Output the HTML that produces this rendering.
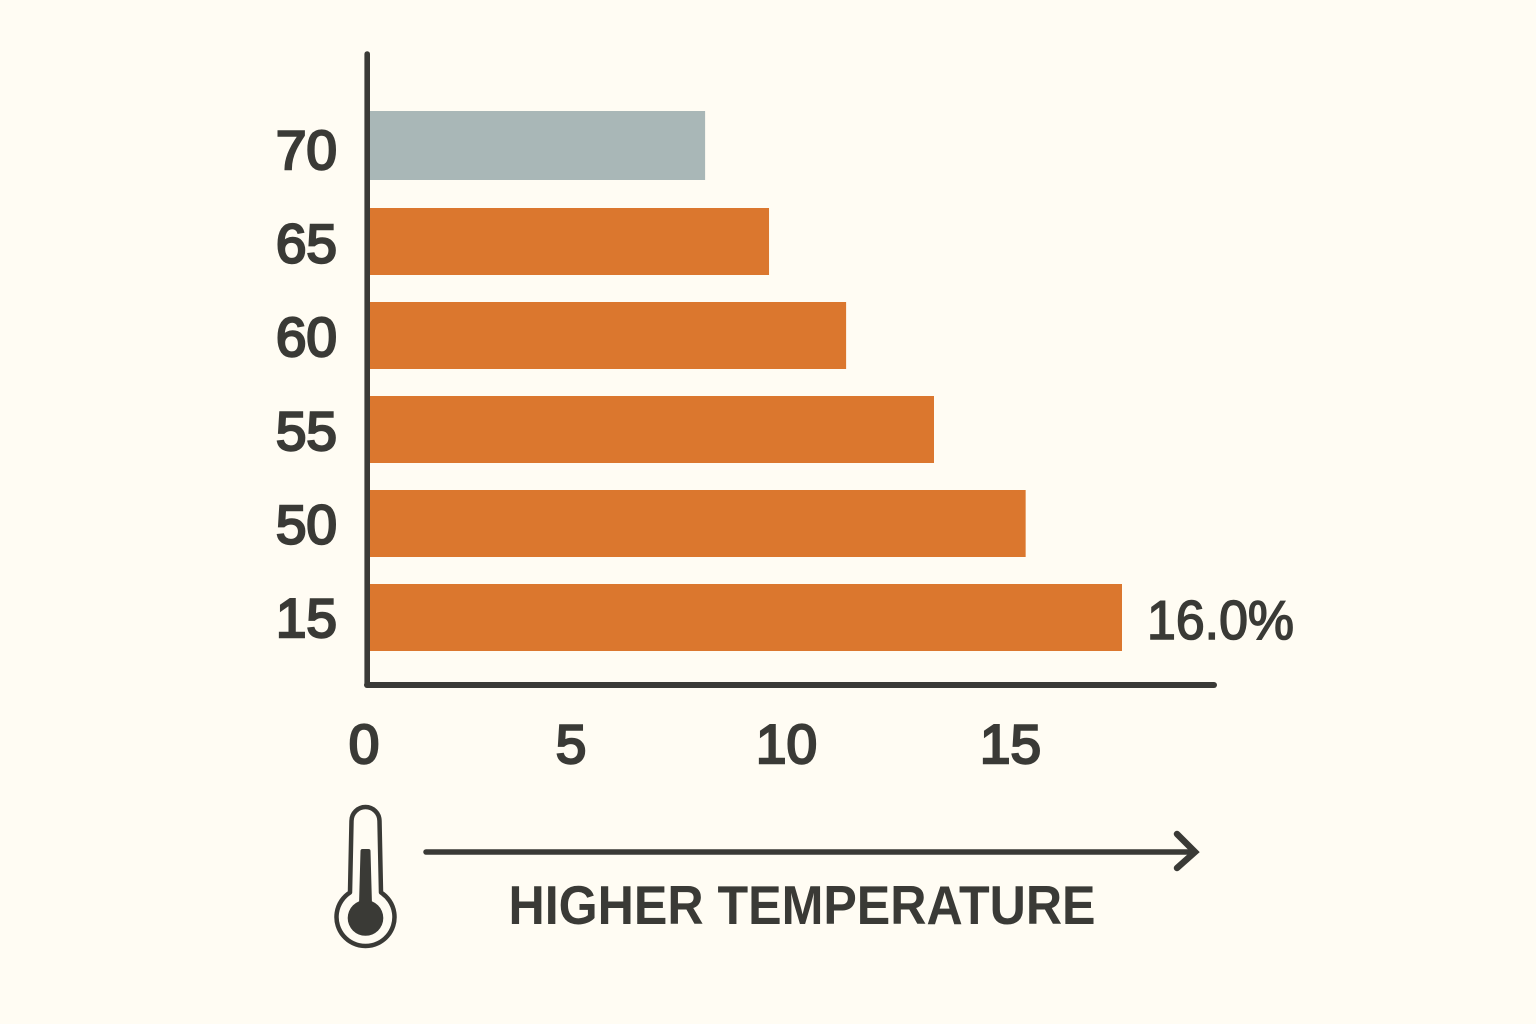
<!DOCTYPE html>
<html lang="en">
<head>
<meta charset="utf-8">
<title>Higher temperature bar chart</title>
<style>
  html, body { margin: 0; padding: 0; background: #fffcf3; }
  svg { display: block; }
  text { font-family: "Liberation Sans", sans-serif; fill: #3a3a36; }
</style>
</head>
<body>
<svg id="chart" width="1536" height="1024" viewBox="0 0 1536 1024" xmlns="http://www.w3.org/2000/svg">
  <rect x="0" y="0" width="1536" height="1024" fill="#fffcf3"/>
  <g id="bars"></g>
  <g id="y-labels"></g>
  <g id="x-labels"></g>
  <line x1="367.2" y1="54" x2="367.2" y2="685" stroke="#3a3a36" stroke-width="5.6" stroke-linecap="round"/>
  <line x1="367" y1="685" x2="1214" y2="685" stroke="#3a3a36" stroke-width="6" stroke-linecap="round"/>
  <g>
    <path d="M350 892.5 L351.5 821 A14 14 0 0 1 379.5 821 L381 892.5 A29 29 0 1 1 350 892.5 Z" fill="none" stroke="#3a3a36" stroke-width="4.5" stroke-linejoin="round"/>
    <path d="M360.5 851 Q360.5 849 362.5 849 L368.5 849 Q370.5 849 370.5 851 L372 905 L359 905 Z" fill="#3a3a36"/>
    <circle cx="365.5" cy="918" r="17.8" fill="#3a3a36"/>
  </g>
  <g>
    <line x1="426" y1="852" x2="1194" y2="852" stroke="#3a3a36" stroke-width="5.5" stroke-linecap="round"/>
    <path d="M1177 834 L1195 852 L1177 868" fill="none" stroke="#3a3a36" stroke-width="6.5" stroke-linecap="round" stroke-linejoin="miter"/>
  </g>
  <text x="508.5" y="924" font-size="55" font-weight="700" textLength="587" lengthAdjust="spacingAndGlyphs">HIGHER TEMPERATURE</text>
</svg>
<script>
// Chart data, listed bottom to top
const categories = ['15', '50', '55', '60', '65', '70'];
const seriesValues = [16.0, 13.95, 12.0, 10.13, 8.49, 7.13];
const highlighted = ['70'];
const valueLabels = ['16.0%', '', '', '', '', ''];
const xTickValues = [0, 5, 10, 15];
const xTickLabels = ['0', '5', '10', '15'];

const NS = 'http://www.w3.org/2000/svg';

// Bar length axis
function xScale(v) { return 370 + v * 47; }
// Tick labels in the picture are spaced slightly unevenly, so they get a fitted axis
function xTickScale(v) { return 364 + 40.55 * v + 0.17 * v * v; }
// Category axis for bars
function yScale(i) { return 617.5 - i * 94; }
// Category axis for labels, which are spaced a little tighter than the bars
function yLabelScale(i) { return 637 - i * 93.6; }

const barsGroup = document.getElementById('bars');
const yGroup = document.getElementById('y-labels');
const xGroup = document.getElementById('x-labels');
const chart = document.getElementById('chart');

categories.forEach(function (cat, i) {
  const isGrey = highlighted.indexOf(cat) !== -1;
  const h = isGrey ? 69 : 67;
  const cy = yScale(i) - (isGrey ? 2 : 0);

  const rect = document.createElementNS(NS, 'rect');
  
  
  rect.setAttribute('x', xScale(0));
  rect.setAttribute('y', cy - h / 2);
  rect.setAttribute('width', xScale(seriesValues[i]) - xScale(0));
  rect.setAttribute('height', h);
  rect.setAttribute('fill', isGrey ? '#a9b7b7' : '#db772e');
  barsGroup.appendChild(rect);

  const label = document.createElementNS(NS, 'text');
  
  
  label.setAttribute('x', 337);
  label.setAttribute('y', yLabelScale(i));
  label.setAttribute('text-anchor', 'end');
  label.setAttribute('font-size', '55');
  label.setAttribute('stroke', '#3a3a36');
  label.setAttribute('stroke-width', '2.4');
  label.textContent = cat;
  yGroup.appendChild(label);

  if (valueLabels[i]) {
    const val = document.createElementNS(NS, 'text');
    
    
    val.setAttribute('x', xScale(seriesValues[i]) + 25);
    val.setAttribute('y', cy + 21.5);
    val.setAttribute('font-size', '55');
    val.setAttribute('stroke', '#3a3a36');
    val.setAttribute('stroke-width', '1.6');
    val.setAttribute('textLength', '147');
    val.setAttribute('lengthAdjust', 'spacingAndGlyphs');
    val.textContent = valueLabels[i];
    chart.appendChild(val);
  }
});

xTickValues.forEach(function (t, i) {
  const tick = document.createElementNS(NS, 'text');
  
  
  tick.setAttribute('x', xTickScale(t));
  tick.setAttribute('y', 763);
  tick.setAttribute('text-anchor', 'middle');
  tick.setAttribute('font-size', '55');
  tick.setAttribute('stroke', '#3a3a36');
  tick.setAttribute('stroke-width', '2.4');
  tick.textContent = xTickLabels[i];
  xGroup.appendChild(tick);
});
</script>
</body>
</html>
